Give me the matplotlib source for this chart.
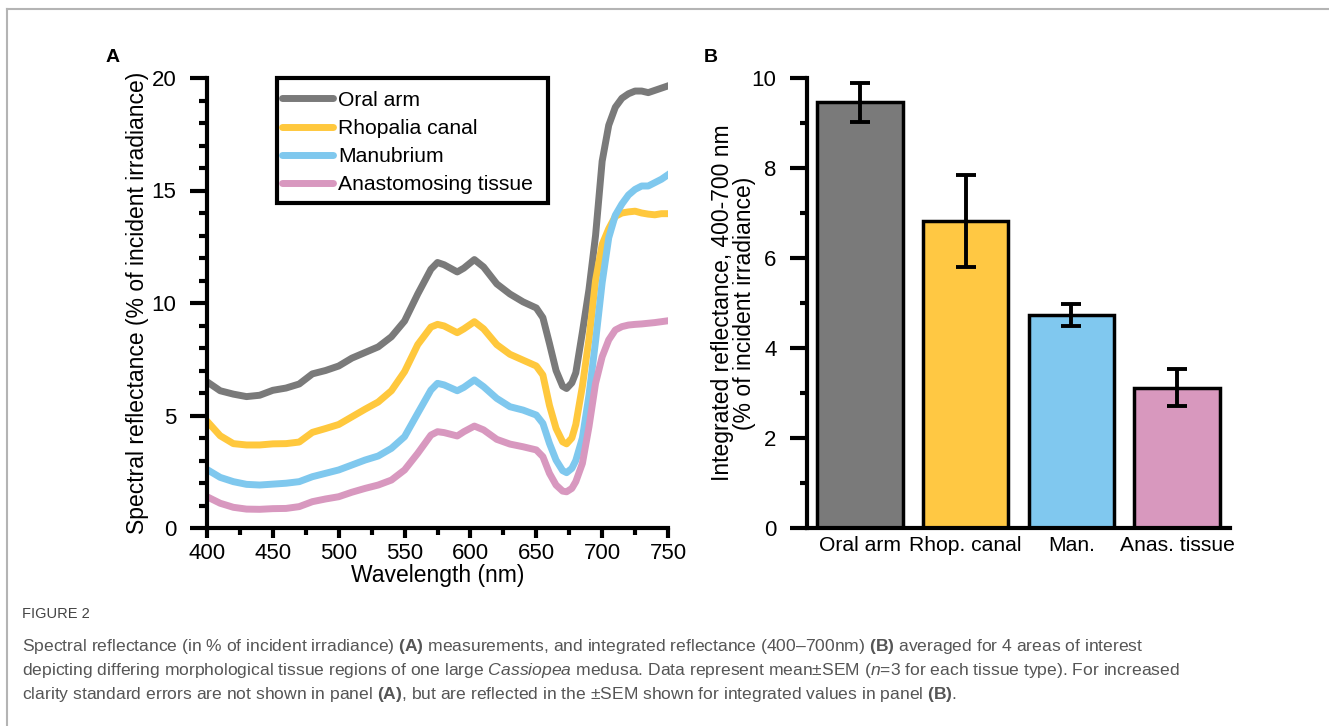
import numpy as np
import matplotlib
matplotlib.use("Agg")
import matplotlib.pyplot as plt
from matplotlib.lines import Line2D
from matplotlib.patches import Rectangle
from matplotlib.ticker import MultipleLocator

plt.rcParams['font.family'] = ['Liberation Sans', 'DejaVu Sans']
plt.rcParams['mathtext.fontset'] = 'custom'
plt.rcParams['mathtext.rm'] = 'Liberation Sans'
plt.rcParams['mathtext.it'] = 'Liberation Sans:italic'
plt.rcParams['mathtext.bf'] = 'Liberation Sans:bold'

# Panel A: spectral reflectance (% of incident irradiance)
wavelength = [400, 410, 420, 430, 440, 450, 460, 470, 480, 490, 500, 510, 520, 530, 540,
              550, 560, 570, 575, 580, 590, 595, 603, 610, 620, 630, 640, 650, 655, 660,
              665, 670, 673, 677, 680, 685, 690, 695, 700, 705, 710, 715, 720, 725, 730,
              735, 740, 745, 750]
oral_arm = [6.5, 6.1, 5.95, 5.84, 5.9, 6.12, 6.22, 6.4, 6.85, 7.0, 7.2, 7.55, 7.8, 8.05, 8.5,
            9.2, 10.4, 11.5, 11.8, 11.7, 11.38, 11.55, 11.93, 11.6, 10.85, 10.4, 10.05, 9.78, 9.35, 8.2,
            7.0, 6.3, 6.2, 6.45, 6.9, 8.7, 10.6, 13.0, 16.3, 17.9, 18.7, 19.1, 19.3, 19.42, 19.42,
            19.35, 19.45, 19.55, 19.65]
rhopalia = [4.75, 4.1, 3.75, 3.69, 3.69, 3.74, 3.75, 3.82, 4.25, 4.42, 4.6, 4.94, 5.28, 5.6, 6.1,
            6.95, 8.15, 8.93, 9.05, 8.98, 8.68, 8.85, 9.17, 8.85, 8.15, 7.72, 7.46, 7.2, 6.8, 5.45,
            4.43, 3.83, 3.74, 4.0, 4.6, 6.3, 8.4, 11.0, 12.6, 13.3, 13.85, 14.0, 14.05, 14.08, 14.0,
            13.95, 13.92, 13.97, 13.97]
manubrium = [2.6, 2.25, 2.06, 1.94, 1.91, 1.95, 1.99, 2.06, 2.28, 2.43, 2.58, 2.8, 3.02, 3.2, 3.54,
             4.06, 5.1, 6.13, 6.43, 6.36, 6.1, 6.25, 6.58, 6.28, 5.76, 5.39, 5.24, 5.02, 4.65, 3.76,
             3.02, 2.55, 2.46, 2.65, 3.0, 4.0, 5.9, 8.3, 10.9, 12.9, 13.9, 14.4, 14.8, 15.05, 15.2,
             15.2, 15.35, 15.5, 15.7]
anastomosing = [1.39, 1.1, 0.92, 0.84, 0.83, 0.86, 0.87, 0.95, 1.17, 1.29, 1.39, 1.59, 1.76, 1.91, 2.13,
                2.58, 3.32, 4.13, 4.28, 4.24, 4.09, 4.28, 4.53, 4.36, 3.94, 3.73, 3.61, 3.47, 3.17, 2.43,
                1.91, 1.64, 1.61, 1.76, 2.06, 2.87, 4.5, 6.43, 7.61, 8.36, 8.8, 8.95, 9.02, 9.05, 9.07,
                9.1, 9.13, 9.17, 9.21]
series_names = ["Oral arm", "Rhopalia canal", "Manubrium", "Anastomosing tissue"]

# Panel B: integrated reflectance 400-700 nm
bar_labels = ["Oral arm", "Rhop. canal", "Man.", "Anas. tissue"]
bar_means = [9.46, 6.83, 4.73, 3.12]
bar_sem = [0.44, 1.02, 0.24, 0.41]

line_colors = ["#7a7a7a", "#ffc83d", "#7fc8ee", "#d898bf"]
bar_colors = ["#7a7a7a", "#ffc843", "#80c8ef", "#d898be"]

FS = 16.5      # axis labels
FS_TICK = 16
FS_SMALL = 15.2  # legend and category labels

fig = plt.figure(figsize=(13.29, 7.26), dpi=100)
W, H = 1329, 726

def ax_rect(x0, x1, y_top, y_bot):
    return [x0 / W, 1 - y_bot / H, (x1 - x0) / W, (y_bot - y_top) / H]

# ---- panel A
ax = fig.add_axes(ax_rect(207, 668, 78, 528))
for ys, name, c in zip([oral_arm, rhopalia, manubrium, anastomosing], series_names, line_colors):
    ax.plot(wavelength, ys, color=c, lw=5, label=name, solid_joinstyle='round')
ax.set_xlim(400, 750)
ax.set_ylim(0, 20)
ax.xaxis.set_major_locator(MultipleLocator(50))
ax.xaxis.set_minor_locator(MultipleLocator(25))
ax.yaxis.set_major_locator(MultipleLocator(5))
ax.yaxis.set_minor_locator(MultipleLocator(1))
for s in ["top", "right"]:
    ax.spines[s].set_visible(False)
for s in ["left", "bottom"]:
    ax.spines[s].set_linewidth(3)
ax.tick_params(axis='y', which='major', length=12, width=3, pad=10, labelsize=FS_TICK)
ax.tick_params(axis='y', which='minor', length=6, width=3)
ax.tick_params(axis='x', which='major', length=7, width=3, pad=4, labelsize=FS_TICK)
ax.tick_params(axis='x', which='minor', length=5, width=3)
ax.set_xlabel("Wavelength (nm)", fontsize=FS, labelpad=0)
ax.set_ylabel("Spectral reflectance (% of incident irradiance)", fontsize=FS, labelpad=2)

# legend: frame drawn separately, entries placed inside it
ax.add_patch(Rectangle((0.152, 0.722), 0.588, 0.278, transform=ax.transAxes, fill=True,
                       facecolor="white", edgecolor="black", lw=3, zorder=4, clip_on=False))
leg = ax.legend(loc='upper left', bbox_to_anchor=(0.163, 0.972), borderaxespad=0,
                fontsize=FS_SMALL, frameon=False, handlelength=2.4,
                handletextpad=0.25, borderpad=0, labelspacing=0.44)
leg.set_zorder(5)
for h in leg.get_lines():
    h.set_linewidth(5)
    h.set_solid_capstyle('round')

# ---- panel B
bx = fig.add_axes(ax_rect(807, 1230, 78, 528))
pos = np.arange(len(bar_labels))
bx.bar(pos, bar_means, width=0.81, color=bar_colors, edgecolor="black", linewidth=2.5, zorder=2)
bx.errorbar(pos, bar_means, yerr=bar_sem, fmt='none', ecolor="black", elinewidth=2.8,
            capsize=7.5, capthick=2.8, zorder=3)
bx.set_xlim(-0.5, 3.5)
bx.set_ylim(0, 10)
bx.set_xticks(pos)
bx.set_xticklabels(bar_labels)
bx.yaxis.set_major_locator(MultipleLocator(2))
bx.yaxis.set_minor_locator(MultipleLocator(1))
for s in ["top", "right"]:
    bx.spines[s].set_visible(False)
for s in ["left", "bottom"]:
    bx.spines[s].set_linewidth(3)
bx.tick_params(axis='y', which='major', length=12, width=3, pad=10, labelsize=FS_TICK)
bx.tick_params(axis='y', which='minor', length=5, width=3)
bx.tick_params(axis='x', length=0, pad=6, labelsize=FS_SMALL)
bx.set_ylabel("Integrated reflectance, 400-700 nm\n(% of incident irradiance)",
              fontsize=FS, labelpad=-3, linespacing=0.92)

fig.text(113 / W, 1 - 57 / H, "A", fontsize=14, fontweight='bold', ha='center', va='center')
fig.text(711 / W, 1 - 57 / H, "B", fontsize=14, fontweight='bold', ha='center', va='center')

# frame around the figure
border = "#b4b4b4"
fig.add_artist(Line2D([7 / W, 7 / W], [1 - 9 / H, 0], transform=fig.transFigure, color=border, lw=1.5))
fig.add_artist(Line2D([7 / W, 1], [1 - 9 / H, 1 - 9 / H], transform=fig.transFigure, color=border, lw=1.5))

# caption
cap_color = "#555555"
fig.text(22 / W, 1 - 614 / H, "FIGURE 2", fontsize=10.5, color="#444444", va='center')
caption = [
    r"Spectral reflectance (in % of incident irradiance) $\mathbf{(A)}$ measurements, and integrated "
    r"reflectance (400–700nm) $\mathbf{(B)}$ averaged for 4 areas of interest",
    r"depicting differing morphological tissue regions of one large $\mathit{Cassiopea}$ medusa. "
    r"Data represent mean±SEM ($\mathit{n}$=3 for each tissue type). For increased",
    r"clarity standard errors are not shown in panel $\mathbf{(A)}$, but are reflected in the ±SEM "
    r"shown for integrated values in panel $\mathbf{(B)}$.",
]
for i, line in enumerate(caption):
    fig.text(22 / W, 1 - (647 + 24 * i) / H, line, fontsize=12.6, color=cap_color, va='center')

fig.savefig("out.png", dpi=100)
